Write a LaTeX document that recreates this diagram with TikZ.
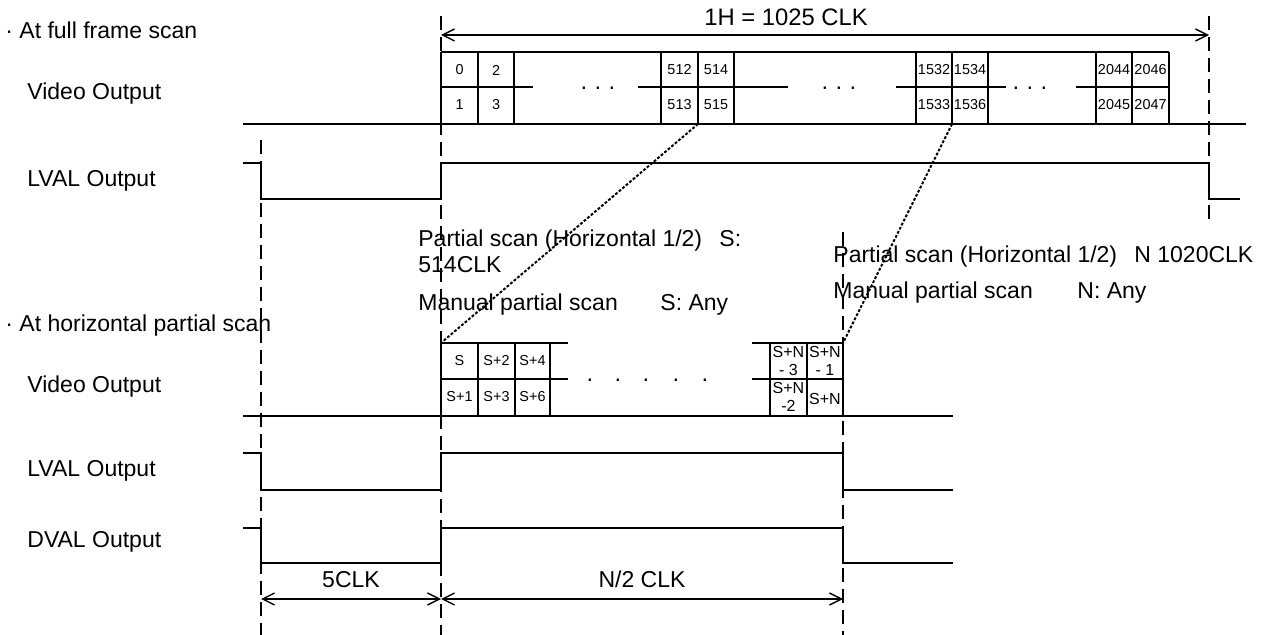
\documentclass[tikz,border=0pt]{standalone}
\usepackage{fontspec}
\setmainfont{Liberation Sans}
\usetikzlibrary{arrows.meta}
\begin{document}
\begin{tikzpicture}[x=0.5pt,y=-0.5pt,
  sig/.style={line width=0.75pt},
  guide/.style={line width=1.15pt,dash pattern=on 7pt off 3.5pt},
  lead/.style={line width=1pt,dash pattern=on 1.4pt off 0.9pt},
  span/.style={line width=0.7pt,{Straight Barb[length=6pt,width=6pt]}-{Straight Barb[length=6pt,width=6pt]}},
  lbl/.style={inner sep=0pt,anchor=base west,font=\fontsize{11.5}{13}\selectfont},
  cell/.style={inner sep=0pt,font=\fontsize{7.2}{7}\selectfont},
  twoline/.style={inner sep=0pt,align=center,font=\fontsize{8}{9}\selectfont}]
\useasboundingbox (0,0) rectangle (1268,635);
\draw[guide] (261,140)--(261,635);
\draw[guide] (441,16)--(441,635);
\draw[guide] (843,232)--(843,635);
\draw[guide] (1209,16)--(1209,220);
\node[lbl] (fullhd) at (5,39) {· At full frame scan};
\node[lbl] (fullvid) at (27,100) {Video Output};
\node[lbl] (fulllval) at (27,187) {LVAL Output};
\node[lbl] (parthd) at (5,332) {· At horizontal partial scan};
\node[lbl] (partvid) at (27,393) {Video Output};
\node[lbl] (partlval) at (27,477) {LVAL Output};
\node[lbl] (partdval) at (27,547) {DVAL Output};
\draw[span] (441,35)--(1209,35);
\node[lbl,anchor=base,font=\fontsize{11.9}{13}\selectfont] (hlen) at (786,26) {1H = 1025 CLK};
\draw[sig] (243,124)--(1246,124);
\draw[sig] (441,52)--(1169,52);
\draw[sig] (441,87)--(533,87) (638,87)--(788,87) (896,87)--(1006,87) (1076,87)--(1169,87);
\foreach \xc in {441,478,514,661,698,734,916,952,988,1096,1132,1169}
  \draw[sig] (\xc,52)--(\xc,124);
\foreach \xm/\up/\dn in {459.5/0/1,496/2/3,679.5/512/513,716/514/515,934/1532/1533,970/1534/1536,1114/2044/2045,1150.5/2046/2047}{
  \node[cell] (u\up) at (\xm,70) {\up};
  \node[cell] (d\dn) at (\xm,105) {\dn};
}
\node[lbl,anchor=base] (gapa) at (598,95) {· · ·};
\node[lbl,anchor=base] (gapb) at (839,95) {· · ·};
\node[lbl,anchor=base] (gapc) at (1030,95) {· · ·};
\draw[sig] (243,163)--(261,163)--(261,199)--(441,199)--(441,163)--(1209,163)--(1209,199)--(1240,199);
\draw[lead] (698,124)--(441,343);
\draw[lead] (952,124)--(843,343);
\node[lbl] (snote) at (418,247) {Partial scan (Horizontal 1/2)};
\node[lbl] (sval) at (719,247) {S:};
\node[lbl] (sclk) at (418,273) {514CLK};
\node[lbl] (smanual) at (418,311) {Manual partial scan};
\node[lbl] (sany) at (660,311) {S: Any};
\node[lbl] (nnote) at (833,263) {Partial scan (Horizontal 1/2)};
\node[lbl] (nval) at (1134,263) {N 1020CLK};
\node[lbl] (nmanual) at (833,299) {Manual partial scan};
\node[lbl] (nany) at (1077,299) {N: Any};
\draw[sig] (243,416)--(953,416);
\draw[sig] (441,343)--(568,343) (441,379)--(568,379);
\draw[sig] (752,343)--(843,343) (752,379)--(843,379);
\foreach \xc in {441,478,515,550,770,807,843}
  \draw[sig] (\xc,343)--(\xc,416);
\foreach \xm/\up/\dn in {459.5/S/S+1,496.5/S+2/S+3,532.5/S+4/S+6}{
  \node[cell] (pu\xm) at (\xm,361) {\up};
  \node[cell] (pd\xm) at (\xm,397) {\dn};
}
\node[twoline] (nmthree) at (788.5,361) {S+N\\- 3};
\node[twoline] (nmone) at (825,361) {S+N\\- 1};
\node[twoline] (nmtwo) at (788.5,397) {S+N\\-2};
\node[twoline] (nlast) at (825,399) {S+N};
\foreach \xd in {590,618,646,676,705}
  \node[lbl,anchor=base] (dot\xd) at (\xd,387) {·};
\draw[sig] (243,453)--(261,453)--(261,490)--(441,490)--(441,453)--(843,453)--(843,490)--(953,490);
\draw[sig] (243,528)--(261,528)--(261,563)--(441,563)--(441,528)--(843,528)--(843,563)--(953,563);
\draw[span] (261,599)--(441,599);
\draw[span] (441,599)--(843,599);
\node[lbl,anchor=base] (fiveclk) at (351,587) {5CLK};
\node[lbl,anchor=base] (halfclk) at (642,587) {N/2 CLK};
\end{tikzpicture}
\end{document}
